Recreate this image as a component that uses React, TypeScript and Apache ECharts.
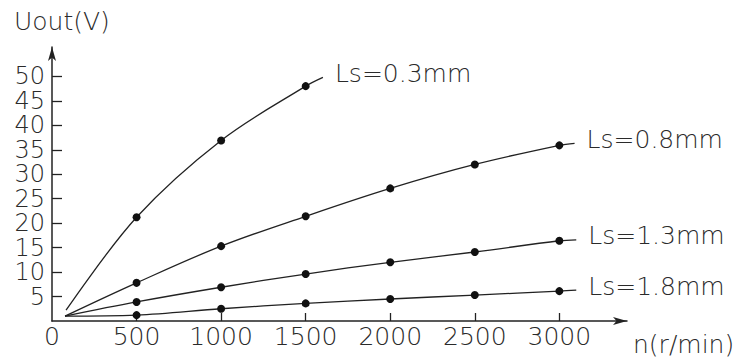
import React, { useEffect, useRef } from "react";
import * as echarts from "echarts";

const xTicks = [500, 1000, 1500, 2000, 2500, 3000];
const xLabels = [0, 500, 1000, 1500, 2000, 2500, 3000];
const yTicks = [5, 10, 15, 20, 25, 30, 35, 40, 45, 50];

const n03 = [500, 1000, 1500];
const u03 = [21.2, 36.9, 48.0];
const n = [500, 1000, 1500, 2000, 2500, 3000];
const u08 = [7.8, 15.3, 21.4, 27.1, 32.0, 35.9];
const u13 = [3.9, 6.9, 9.6, 12.0, 14.1, 16.4];
const u18 = [1.2, 2.5, 3.6, 4.5, 5.3, 6.1];

// curve start / end points (no markers)
const start03 = [83, 2.2];
const startOther = [77, 1.0];
const end03 = [1602, 49.8];
const end08 = [3090, 36.3];
const end13 = [3100, 16.6];
const end18 = [3100, 6.3];

const FONT = "DejaVu Sans";
const TXT = "#2a2a2a";
const FS = 25;

function buildSeries(name: string, xs: number[], ys: number[], s: number[], e: number[]) {
  const data: any[] = [{ value: s, symbol: "none" }];
  xs.forEach((x, i) => data.push([x, ys[i]]));
  data.push({ value: e, symbol: "none" });
  return {
    name,
    type: "line",
    smooth: 0.35,
    data,
    symbol: "circle",
    symbolSize: 8,
    showSymbol: true,
    clip: false,
    itemStyle: { color: "#111" },
    lineStyle: { color: "#222", width: 1.3 },
    emphasis: { disabled: true },
    endLabel: {
      show: true,
      position: "right",
      formatter: name,
      distance: 12,
      offset: [0, -4],
      fontSize: FS,
      lineHeight: 22,
      fontFamily: FONT,
      fontWeight: 200,
      color: TXT,
    },
  };
}

export default function App() {
  const ref = useRef<HTMLDivElement>(null);
  useEffect(() => {
    if (!ref.current) return;
    const chart = echarts.init(ref.current, undefined, { renderer: "svg" });
    const axisLine = {
      show: true,
      symbol: ["none", "arrow"],
      symbolSize: [6, 14],
      lineStyle: { color: "#222", width: 1.5 },
    };
    chart.setOption({
      animation: false,
      backgroundColor: "#fff",
      grid: { left: 52, right: 121, top: 47, bottom: 37 },
      xAxis: {
        type: "value",
        min: 0,
        max: 3400,
        axisLine,
        axisTick: {
          show: true,
          inside: true,
          length: 8,
          customValues: xTicks,
          lineStyle: { color: "#222", width: 1.3 },
        },
        axisLabel: {
          customValues: xLabels,
          formatter: (v: number) => String(v),
          fontSize: FS,
          lineHeight: 22,
          fontFamily: FONT,
          fontWeight: 200,
          color: TXT,
          margin: 4,
        },
        splitLine: { show: false },
      },
      yAxis: {
        type: "value",
        min: 0,
        max: 56,
        axisLine,
        axisTick: {
          show: true,
          inside: true,
          length: 10,
          customValues: yTicks,
          lineStyle: { color: "#222", width: 1.3 },
        },
        axisLabel: {
          customValues: yTicks,
          formatter: (v: number) => String(v),
          fontSize: 24,
          lineHeight: 20,
          showMinLabel: true,
          showMaxLabel: true,
          hideOverlap: false,
          fontFamily: FONT,
          fontWeight: 200,
          color: TXT,
          margin: 7,
        },
        splitLine: { show: false },
      },
      graphic: [
        {
          type: "text",
          left: 14,
          top: 9,
          style: { text: "Uout(V)", fontSize: FS, fontFamily: FONT, fontWeight: 200, fill: TXT },
        },
        {
          type: "text",
          left: 633,
          top: 332,
          style: { text: "n(r/min)", fontSize: FS, fontFamily: FONT, fontWeight: 200, fill: TXT },
        },
      ],
      series: [
        buildSeries("Ls=0.3mm", n03, u03, start03, end03),
        buildSeries("Ls=0.8mm", n, u08, startOther, end08),
        buildSeries("Ls=1.3mm", n, u13, startOther, end13),
        buildSeries("Ls=1.8mm", n, u18, startOther, end18),
      ],
    });
    return () => chart.dispose();
  }, []);
  return (
    <div
      ref={ref}
      style={{ position: "fixed", left: 0, top: 0, width: 748, height: 358, background: "#fff" }}
    />
  );
}
